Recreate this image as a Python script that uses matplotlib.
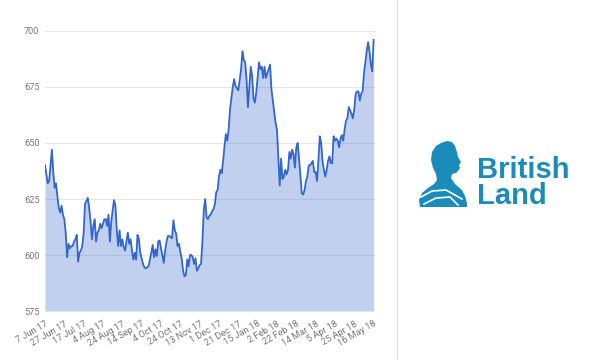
import matplotlib
matplotlib.use("Agg")
import matplotlib.pyplot as plt
from matplotlib.patches import Polygon

plt.rcParams['font.family'] = ['Roboto', 'DejaVu Sans']

# trading days from 7 Jun 17, one price per day (pence)
prices = [
    640, 636, 632, 633, 640, 647, 637, 630, 632, 626,
    621, 619, 622, 618, 616, 610, 599, 605, 603, 604,
    604, 606, 607, 609, 597, 601, 602, 604, 610, 623,
    624, 625.5, 621, 615, 607, 613, 616, 606, 610, 611,
    614, 612, 614, 616, 616, 613, 618, 606, 615, 620,
    624.5, 622, 611, 604, 611, 604, 607, 603.5, 602, 606,
    610, 605, 607, 602, 598, 601, 598, 609, 607, 601,
    598.5, 596, 594.5, 594, 594.5, 595, 598, 601, 604.5, 599,
    602.5, 599.5, 606, 606.5, 603, 600, 596.5, 602, 606, 608.5,
    608.5, 608, 607.5, 615.5, 611, 609.5, 604, 605, 601.5, 598.5,
    593, 590.5, 591, 598, 595, 600, 600, 599, 596, 598.5,
    593, 594, 595.5, 596, 606, 620, 625, 617, 616, 617.5,
    618, 619.5, 620.5, 622.5, 628, 629, 635, 638, 636.5, 642,
    648.5, 654, 651, 656, 665, 670, 675, 678.5, 675.5, 674.5,
    673.5, 678, 683, 691, 687, 686, 678, 666, 675, 684,
    680, 670, 668, 672.5, 679, 686, 683, 684, 679, 684,
    679, 681, 683, 685, 674, 669, 664, 659, 656, 643,
    631, 643, 634, 635, 638, 636, 638, 646, 643, 647,
    645, 639, 648, 650, 643, 635, 627.5, 627, 629, 633,
    635, 640, 640, 641, 642, 637, 637, 633, 642, 653,
    650, 642, 638, 635, 638, 642, 644, 641, 641, 653,
    651, 652, 651, 648, 652, 653.5, 651, 656, 660, 661,
    666, 664.5, 663, 661, 665, 672, 673, 673, 669, 672,
    673, 681, 686, 691, 695, 691, 685, 682, 696,
]
days = list(range(len(prices)))

tick_labels = ["7 Jun 17", "27 Jun 17", "17 Jul 17", "4 Aug 17", "24 Aug 17",
               "14 Sep 17", "4 Oct 17", "24 Oct 17", "13 Nov 17", "1 Dec 17",
               "21 Dec 17", "15 Jan 18", "2 Feb 18", "22 Feb 18", "14 Mar 18",
               "5 Apr 18", "25 Apr 18", "16 May 18"]
tick_days = list(range(0, 14 * len(tick_labels), 14))
y_ticks = [575, 600, 625, 650, 675, 700]

fig = plt.figure(figsize=(6, 3.6), dpi=100)
ax = fig.add_axes([0.075, 0.136, 0.55, 0.778])

ax.fill_between(days, prices, y_ticks[0], color='#3366cc', alpha=0.3, lw=0, zorder=2)
ax.plot(days, prices, color='#3366cc', lw=1.3, zorder=3)

ax.set_xlim(0, 239)
ax.set_ylim(y_ticks[0], y_ticks[-1])
ax.set_yticks(y_ticks)
ax.set_xticks(tick_days)
ax.set_xticklabels(tick_labels, rotation=30, ha='right', va='top',
                   rotation_mode='anchor')
ax.grid(axis='y', color='#e6e6e6', lw=0.8, zorder=0)
ax.tick_params(length=0, labelsize=6.6, colors='#777777')
ax.tick_params(axis='x', pad=6)
ax.tick_params(axis='y', pad=4)
for s in ax.spines.values():
    s.set_visible(False)

# overlay for separator and logo
ov = fig.add_axes([0, 0, 1, 1], zorder=5)
ov.set_xlim(0, 600)
ov.set_ylim(360, 0)
ov.axis('off')
ov.patch.set_alpha(0)
ov.plot([397, 397], [0, 360], color='#dddddd', lw=0.8)

logo_blue = '#1a8cbb'
head = [(436, 146), (441, 143), (447, 141), (452, 142), (455, 146), (457, 152),
        (458, 157), (461, 162), (459, 165), (460, 168), (458, 171), (456, 173),
        (452, 174), (451, 178), (455, 184), (462, 190), (465, 196), (467, 203),
        (467, 207), (420, 207), (419, 200), (422, 193), (428, 188), (434, 184),
        (437, 180), (436, 174), (433, 168), (431, 160), (432, 152)]
ov.add_patch(Polygon(head, closed=True, color=logo_blue, lw=0))
ov.plot([421, 432, 446, 462], [197, 191, 190, 199], color='white', lw=1.2)
ov.plot([424, 436, 450, 458], [204, 198, 197, 205], color='white', lw=1.2)

ov.text(477, 178, "British", color=logo_blue, fontsize=21, fontweight='bold',
        family='Liberation Sans', ha='left', va='baseline')
ov.text(477, 204, "Land", color=logo_blue, fontsize=21, fontweight='bold',
        family='Liberation Sans', ha='left', va='baseline')

fig.savefig("out.png", dpi=100)
